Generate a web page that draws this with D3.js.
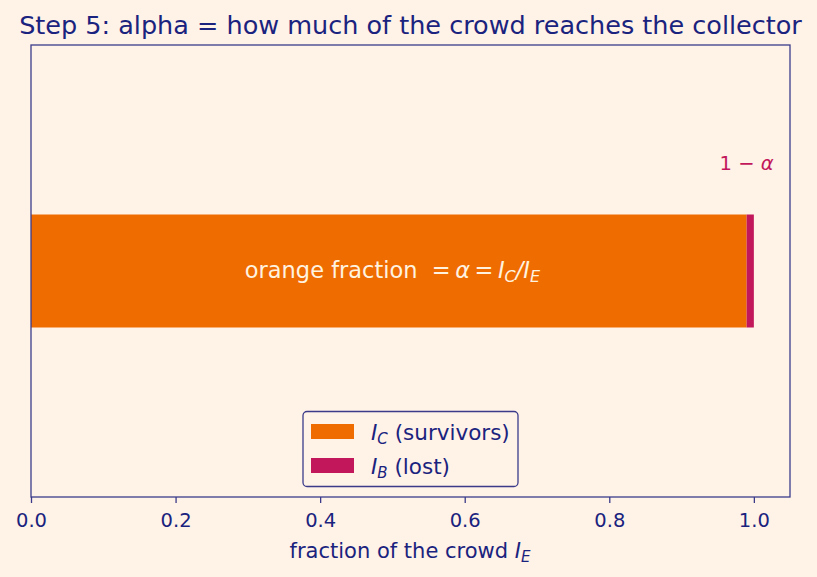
<!DOCTYPE html>
<html>
<head>
<meta charset="utf-8">
<script src="https://cdn.jsdelivr.net/npm/d3@7"></script>
<style>
    body { margin: 0; background: #fff2e7; }
    svg { display: block; font-family: "DejaVu Sans", sans-serif; }
</style>
</head>
<body>
<div class="data_figure"></div>
<script>
const alpha = 0.99;
const segNames = ["survivors", "lost"];
const segValues = [alpha, 1 - alpha];
const segColors = ["#ef6c00", "#c2185b"];
const legendLabels = [["C", " (survivors)"], ["B", " (lost)"]];
const xTicks = [0.0, 0.2, 0.4, 0.6, 0.8, 1.0];

const width = 817, height = 577;
const padL = 31, padR = 790, padT = 45, padB = 497;
const navy = "#1a237e";
const spine = "#3b3b8a";

const xScale = d3.scaleLinear().domain([0, 1.05]).range([padL, padR]);
const yScale = d3.scaleLinear().domain([-1, 1]).range([padB, padT]);

let svg = d3.select(".data_figure")
    .append("svg")
    .attr("width", width)
    .attr("height", height);

svg.append("rect").attr("width", width).attr("height", height).attr("fill", "#fff2e7");

// stacked bar
let acc = 0;
const segs = segValues.map((v, i) => {
    const s = {name: segNames[i], x0: acc, x1: acc + v, color: segColors[i]};
    acc += v;
    return s;
});

svg.selectAll("rect.bar")
    .data(segs)
    .enter()
    .append("rect")
    .attr("class", "bar")
    .attr("x", d => xScale(d.x0))
    .attr("y", yScale(0.25))
    .attr("width", d => xScale(d.x1) - xScale(d.x0))
    .attr("height", yScale(-0.25) - yScale(0.25))
    .attr("fill", d => d.color);

// text in bar
let t = svg.append("text")
    .attr("x", xScale(0.5))
    .attr("y", yScale(0) + 7)
    .attr("text-anchor", "middle")
    .attr("fill", "#fff3e0")
    .style("font-size", "22.5px")
    .attr("xml:space", "preserve");
t.append("tspan").text("orange fraction  =\u2009");
t.append("tspan").attr("font-style", "italic").text("α");
t.append("tspan").text("\u2009=\u2009");
t.append("tspan").attr("font-style", "italic").text("I");
t.append("tspan").attr("font-style", "italic").attr("font-size", "16px").attr("dy", 4).text("C");
t.append("tspan").attr("font-style", "italic").attr("dy", -4).text("/I");
t.append("tspan").attr("font-style", "italic").attr("font-size", "16px").attr("dy", 4).text("E");

// 1 - alpha label
let t2 = svg.append("text")
    .attr("x", xScale(0.99))
    .attr("y", yScale(0.48) + 7)
    .attr("text-anchor", "middle")
    .attr("fill", "#c2185b")
    .style("font-size", "19.5px");
t2.append("tspan").text("1 − ");
t2.append("tspan").attr("font-style", "italic").text("α");

// frame
svg.append("rect")
    .attr("x", padL).attr("y", padT)
    .attr("width", padR - padL).attr("height", padB - padT)
    .attr("fill", "none").attr("stroke", spine).attr("stroke-width", 1.3);

// x axis
let xAxis = svg.append("g")
    .attr("transform", "translate(0," + padB + ")")
    .call(d3.axisBottom(xScale).tickValues(xTicks).tickFormat(d3.format(".1f")).tickSize(6).tickPadding(10));
xAxis.select(".domain").remove();
xAxis.selectAll("line").attr("stroke", spine).attr("stroke-width", 1.3);
xAxis.selectAll("text").attr("fill", navy).style("font-size", "19.5px").style("font-family", "DejaVu Sans");

let xl = svg.append("text")
    .attr("x", 410)
    .attr("y", 558)
    .attr("text-anchor", "middle")
    .attr("fill", navy)
    .style("font-size", "21px");
xl.append("tspan").text("fraction of the crowd ");
xl.append("tspan").attr("font-style", "italic").text("I");
xl.append("tspan").attr("font-style", "italic").attr("font-size", "15px").attr("dy", 4).text("E");

// title
svg.append("text")
    .attr("x", 410.5)
    .attr("y", 34)
    .attr("text-anchor", "middle")
    .attr("fill", navy)
    .style("font-size", "25.5px")
    .text("Step 5: alpha = how much of the crowd reaches the collector");

// legend
let lg = svg.append("g");
lg.append("rect")
    .attr("x", 303).attr("y", 411.5).attr("width", 215).attr("height", 75)
    .attr("rx", 4)
    .attr("fill", "#fff2e7").attr("stroke", spine).attr("stroke-width", 1.3);
legendLabels.forEach((lab, i) => {
    const yy = 424 + i * 34;
    lg.append("rect").attr("x", 311).attr("y", yy).attr("width", 43).attr("height", 15).attr("fill", segColors[i]);
    let tx = lg.append("text").attr("x", 371).attr("y", yy + 16).attr("fill", navy).style("font-size", "21.5px");
    tx.append("tspan").attr("font-style", "italic").text("I");
    tx.append("tspan").attr("font-style", "italic").attr("font-size", "15px").attr("dy", 4).text(lab[0]);
    tx.append("tspan").attr("dy", -4).text(lab[1]);
});
</script>
</body>
</html>
